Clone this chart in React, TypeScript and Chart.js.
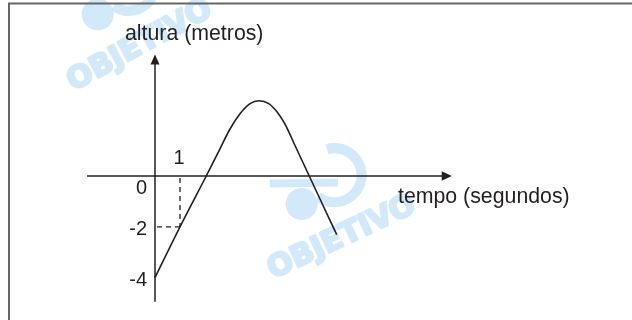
import React, { useEffect, useRef } from "react";
import { Chart, registerables } from "chart.js";

Chart.register(...registerables);

// Curve data
const timeValues = [0, 1, 2.05, 2.6, 3.0, 3.4, 3.8, 4.17, 4.55, 4.9, 5.2, 5.6, 6.17, 6.73, 7.27];
const heightValues = [-4, -2, 0, 1.07, 1.85, 2.45, 2.85, 2.96, 2.85, 2.5, 2.04, 1.2, 0, -1.18, -2.31];

// Axis tick labels (value, text)
const yTickValues = [0, -2, -4];
const yTickLabels = ["0", "-2", "-4"];
const xTickValues = [1];
const xTickLabels = ["1"];

// Guide (dashed) point
const guideT = [1];
const guideH = [-2];

const yAxisTitle = "altura (metros)";
const xAxisTitle = "tempo (segundos)";
const watermarkText = "OBJETIVO";

const INK = "#231f20";
const FONT = "'Liberation Sans', Arial, sans-serif";
const WM = "#d2e9fa";

function drawWatermark(ctx: CanvasRenderingContext2D, cx: number, cy: number, angle: number) {
  ctx.save();
  ctx.translate(cx, cy);
  ctx.rotate(angle);
  ctx.fillStyle = WM;
  ctx.strokeStyle = WM;
  ctx.font = `bold 30px 'DejaVu Sans', sans-serif`;
  ctx.textAlign = "center";
  ctx.textBaseline = "middle";
  ctx.lineWidth = 2.5;
  ctx.lineJoin = "round";
  ctx.strokeText(watermarkText, 0, 0);
  ctx.fillText(watermarkText, 0, 0);
  // simple logo shapes above the word
  ctx.lineWidth = 10;
  ctx.beginPath();
  ctx.arc(20, -60, 27, -Math.PI * 0.45, Math.PI * 0.85);
  ctx.stroke();
  ctx.beginPath();
  ctx.arc(-22, -48, 16, 0, Math.PI * 2);
  ctx.fill();
  ctx.lineWidth = 8;
  ctx.beginPath();
  ctx.moveTo(-42, -80);
  ctx.lineTo(20, -52);
  ctx.stroke();
  ctx.restore();
}

const decorPlugin = {
  id: "decor",
  beforeDatasetsDraw(chart: any) {
    const ctx: CanvasRenderingContext2D = chart.ctx;
    const xs = chart.scales.x;
    const ys = chart.scales.y;
    const X = (v: number) => xs.getPixelForValue(v);
    const Y = (v: number) => ys.getPixelForValue(v);

    // watermarks
    drawWatermark(ctx, 140, 46, -0.5);
    drawWatermark(ctx, 342, 238, -0.44);

    // frame
    ctx.save();
    ctx.strokeStyle = "#666";
    ctx.lineWidth = 2;
    ctx.beginPath();
    ctx.moveTo(632, 3.5);
    ctx.lineTo(9, 3.5);
    ctx.lineTo(9, 320);
    ctx.stroke();
    ctx.restore();

    ctx.save();
    ctx.strokeStyle = INK;
    ctx.fillStyle = INK;
    ctx.lineWidth = 1.5;
    // y axis
    const x0 = X(0);
    const y0 = Y(0);
    const yTop = Y(4.78);
    ctx.beginPath();
    ctx.moveTo(x0, Y(-4.95));
    ctx.lineTo(x0, yTop + 8);
    ctx.stroke();
    ctx.beginPath();
    ctx.moveTo(x0, yTop);
    ctx.lineTo(x0 - 4.5, yTop + 10);
    ctx.lineTo(x0 + 4.5, yTop + 10);
    ctx.closePath();
    ctx.fill();
    // x axis
    const xRight = X(11.87);
    ctx.beginPath();
    ctx.moveTo(X(-2.72), y0);
    ctx.lineTo(xRight - 8, y0);
    ctx.stroke();
    ctx.beginPath();
    ctx.moveTo(xRight, y0);
    ctx.lineTo(xRight - 10, y0 - 4.8);
    ctx.lineTo(xRight - 10, y0 + 4.8);
    ctx.closePath();
    ctx.fill();

    // dashed guides
    ctx.setLineDash([5, 4]);
    ctx.lineWidth = 1.3;
    guideT.forEach((t, i) => {
      const h = guideH[i];
      ctx.beginPath();
      ctx.moveTo(X(t), y0 + 2);
      ctx.lineTo(X(t), Y(h));
      ctx.stroke();
      ctx.beginPath();
      ctx.moveTo(X(0) + 2, Y(h));
      ctx.lineTo(X(t), Y(h));
      ctx.stroke();
    });
    ctx.setLineDash([]);

    // tick labels
    ctx.font = `20px ${FONT}`;
    ctx.textBaseline = "middle";
    ctx.textAlign = "right";
    yTickValues.forEach((v, i) => {
      const yy = v === 0 ? y0 + 12 : Y(v) + 3;
      ctx.fillText(yTickLabels[i], x0 - 8, yy);
    });
    ctx.textAlign = "center";
    xTickValues.forEach((v, i) => {
      ctx.fillText(xTickLabels[i], X(v) - 1, y0 - 18);
    });

    // axis titles
    ctx.font = `21.3px ${FONT}`;
    ctx.textBaseline = "alphabetic";
    ctx.textAlign = "left";
    ctx.fillText(yAxisTitle, 125, 39.5);
    ctx.fillText(xAxisTitle, 398, 203);
    ctx.restore();
  },
};

export default function App() {
  const ref = useRef<HTMLCanvasElement | null>(null);
  useEffect(() => {
    if (!ref.current) return;
    const chart = new Chart(ref.current, {
      type: "scatter",
      data: {
        datasets: [
          {
            data: timeValues.map((t, i) => ({ x: t, y: heightValues[i] })),
            showLine: true,
            borderColor: INK,
            borderWidth: 1.6,
            pointRadius: 0,
            tension: 0.35,
            fill: false,
          },
        ],
      },
      options: {
        animation: false,
        responsive: false,
        layout: { padding: { left: 80, right: 177, top: 49, bottom: 17 } },
        plugins: { legend: { display: false }, tooltip: { enabled: false } },
        scales: {
          x: { type: "linear", min: -3, max: 12, display: false },
          y: { type: "linear", min: -5, max: 5, display: false },
        },
      },
      plugins: [decorPlugin],
    } as any);
    return () => chart.destroy();
  }, []);
  return (
    <div style={{ position: "fixed", left: 0, top: 0, width: 632, height: 320, background: "#fff" }}>
      <canvas ref={ref} width={632} height={320} />
    </div>
  );
}
